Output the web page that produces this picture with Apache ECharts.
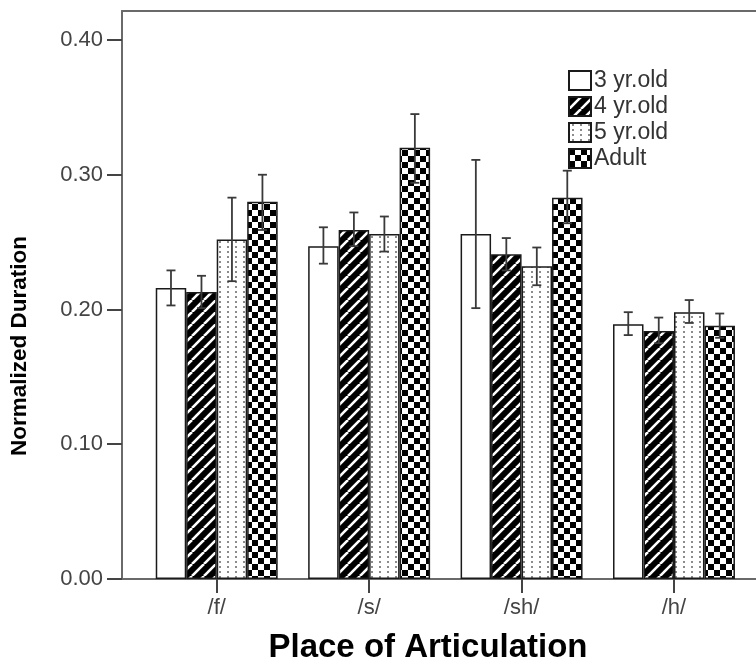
<!DOCTYPE html>
<html>
<head>
<meta charset="utf-8">
<script src="https://cdn.jsdelivr.net/npm/echarts@6/dist/echarts.min.js"></script>
<style>
  html, body { margin: 0; padding: 0; background: #fff; }
  #chart { width: 756px; height: 665px; }
</style>
</head>
<body>
<div id="chart"></div>
<script>
// Categories and groups
const places = ['/f/', '/s/', '/sh/', '/h/'];
const groups = ['3 yr.old', '4 yr.old', '5 yr.old', 'Adult'];

// Mean normalized duration per group, in place order
const mean3yr   = [0.216, 0.247, 0.256, 0.189];
const mean4yr   = [0.213, 0.259, 0.241, 0.184];
const mean5yr   = [0.252, 0.256, 0.232, 0.198];
const meanAdult = [0.280, 0.320, 0.283, 0.188];

// Error bar limits (lower / upper) per group
const low3yr    = [0.203, 0.234, 0.201, 0.181];
const high3yr   = [0.229, 0.261, 0.311, 0.198];
const low4yr    = [0.201, 0.247, 0.229, 0.175];
const high4yr   = [0.225, 0.272, 0.253, 0.194];
const low5yr    = [0.221, 0.243, 0.218, 0.190];
const high5yr   = [0.283, 0.269, 0.246, 0.207];
const lowAdult  = [0.259, 0.294, 0.264, 0.179];
const highAdult = [0.300, 0.345, 0.303, 0.197];

// Y tick labels
const yTicks = [0, 0.1, 0.2, 0.3, 0.4];

const means = [mean3yr, mean4yr, mean5yr, meanAdult];
const lows = [low3yr, low4yr, low5yr, lowAdult];
const highs = [high3yr, high4yr, high5yr, highAdult];

// Fill patterns
function makeCanvas(w, h, draw) {
  const c = document.createElement('canvas');
  c.width = w; c.height = h;
  draw(c.getContext('2d'), w, h);
  return c;
}
const hatch = makeCanvas(12, 12, (g, w, h) => {
  g.fillStyle = '#000'; g.fillRect(0, 0, w, h);
  g.strokeStyle = '#fff'; g.lineWidth = 2.6;
  for (let o = -w; o <= w; o += w) {
    g.beginPath(); g.moveTo(o, h); g.lineTo(o + w, 0); g.stroke();
  }
});
const dots = makeCanvas(8, 5, (g, w, h) => {
  g.fillStyle = '#fff'; g.fillRect(0, 0, w, h);
  g.fillStyle = '#8c8c8c'; g.fillRect(3, 1, 2, 2);
});
const checker = makeCanvas(12, 12, (g, w, h) => {
  g.fillStyle = '#fff'; g.fillRect(0, 0, w, h);
  g.fillStyle = '#000'; g.fillRect(0, 0, 6, 6); g.fillRect(6, 6, 6, 6);
});
const fills = [
  '#ffffff',
  { image: hatch, repeat: 'repeat' },
  { image: dots, repeat: 'repeat' },
  { image: checker, repeat: 'repeat' }
];

const yMax = 0.4215;
const font = 'Liberation Sans, Arial, sans-serif';
const axisGray = '#6a6a6a';

const barSeries = groups.map((name, k) => ({
  name: name,
  type: 'bar',
  xAxisIndex: 2,
  yAxisIndex: 1,
  barGap: '0%',
  barCategoryGap: '20%',
  data: means[k],
  itemStyle: { color: fills[k], borderColor: '#1a1a1a', borderWidth: 1.5 },
  emphasis: { disabled: true },
  z: 2
}));

const errData = [];
groups.forEach((g, k) => {
  places.forEach((p, i) => errData.push([i, lows[k][i], highs[k][i], k]));
});

const errSeries = {
  type: 'custom',
  xAxisIndex: 2,
  yAxisIndex: 1,
  z: 5,
  encode: { x: 0, y: [1, 2] },
  data: errData,
  renderItem: function (params, api) {
    const cat = api.value(0), lo = api.value(1), hi = api.value(2), k = api.value(3);
    const band = api.size([1, 0])[0];
    const bw = band * 0.8 / 4;
    const cx = api.coord([cat, 0])[0] + (k - 1.5) * bw;
    const yLo = api.coord([cat, lo])[1];
    const yHi = api.coord([cat, hi])[1];
    const cap = 4.5;
    const st = { stroke: '#3a3a3a', lineWidth: 1.8 };
    return {
      type: 'group',
      children: [
        { type: 'line', shape: { x1: cx, y1: yLo, x2: cx, y2: yHi }, style: st },
        { type: 'line', shape: { x1: cx - cap, y1: yHi, x2: cx + cap, y2: yHi }, style: st },
        { type: 'line', shape: { x1: cx - cap, y1: yLo, x2: cx + cap, y2: yLo }, style: st }
      ]
    };
  }
};

const chart = echarts.init(document.getElementById('chart'));
chart.setOption({
  animation: false,
  backgroundColor: '#fff',
  grid: [
    { left: 122, right: -30, top: 11, bottom: 86 },
    { left: 140.5, right: 5.8, top: 11, bottom: 86 }
  ],
  legend: {
    data: groups,
    orient: 'vertical',
    left: 568,
    top: 69,
    icon: 'rect',
    itemWidth: 22,
    itemHeight: 19,
    itemGap: 3,
    padding: 0,
    selectedMode: false,
    textStyle: { fontFamily: font, fontSize: 23, lineHeight: 22, color: '#333', padding: [0, 0, 0, -2] }
  },
  xAxis: [
    {
      type: 'value', gridIndex: 0, min: 0, max: 1,
      axisLine: { show: true, lineStyle: { color: axisGray, width: 2 } },
      axisTick: { show: false }, axisLabel: { show: false }, splitLine: { show: false }
    },
    {
      type: 'value', gridIndex: 0, position: 'top', min: 0, max: 1,
      axisLine: { show: true, lineStyle: { color: axisGray, width: 2 } },
      axisTick: { show: false }, axisLabel: { show: false }, splitLine: { show: false }
    },
    {
      type: 'category', gridIndex: 1, data: places,
      axisLine: { show: false },
      axisTick: { show: true, alignWithLabel: true, length: 14, lineStyle: { color: '#444', width: 2 } },
      axisLabel: { margin: 18, fontFamily: font, fontSize: 22, color: '#444' },
      splitLine: { show: false }
    }
  ],
  yAxis: [
    {
      type: 'value', gridIndex: 0, min: 0, max: yMax,
      axisLine: { show: true, lineStyle: { color: axisGray, width: 2 } },
      axisTick: { show: true, length: 15, customValues: yTicks, lineStyle: { color: '#444', width: 2 } },
      axisLabel: {
        margin: 19, fontFamily: font, fontSize: 22, color: '#444',
        customValues: yTicks,
        formatter: v => v.toFixed(2)
      },
      splitLine: { show: false }
    },
    {
      type: 'value', gridIndex: 1, min: 0, max: yMax, show: false,
      splitLine: { show: false }
    }
  ],
  graphic: [
    {
      type: 'text', x: 428, y: 648,
      style: {
        text: 'Place of Articulation', fontFamily: font, fontWeight: 'bold',
        fontSize: 33, fill: '#000', align: 'center', verticalAlign: 'middle'
      }
    },
    {
      type: 'text', x: 20, y: 346, rotation: Math.PI / 2,
      style: {
        text: 'Normalized Duration', fontFamily: font, fontWeight: 'bold',
        fontSize: 22.5, fill: '#000', align: 'center', verticalAlign: 'middle'
      }
    }
  ],
  series: barSeries.concat([errSeries])
});
</script>
</body>
</html>
